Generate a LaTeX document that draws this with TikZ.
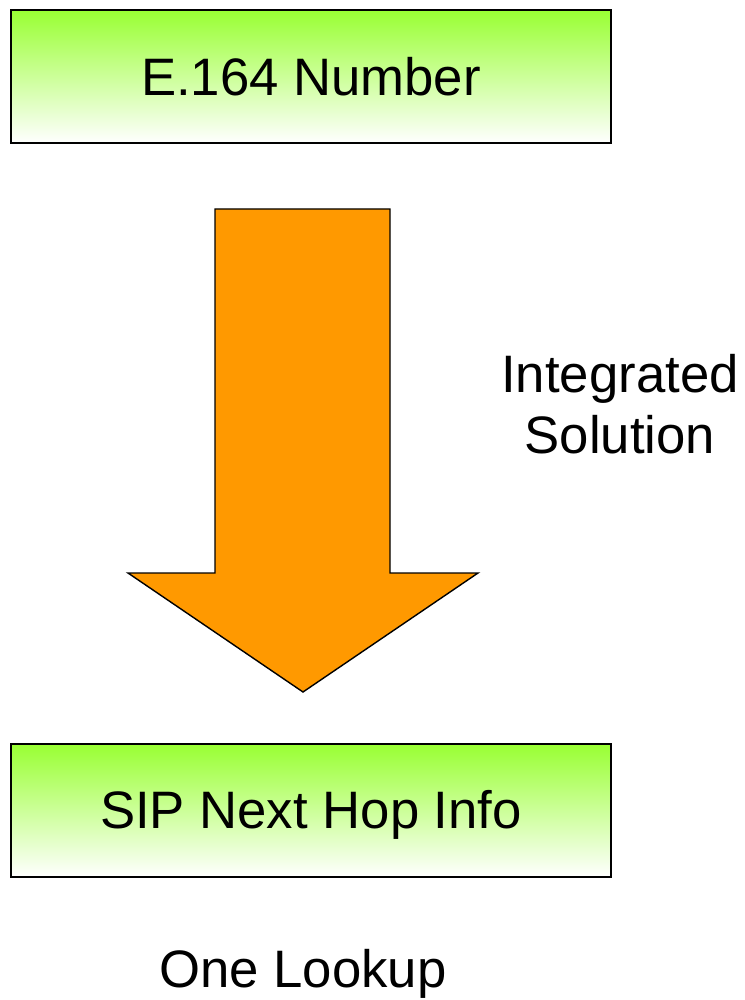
\documentclass[tikz,border=0pt]{standalone}
\usepackage{fontspec}
\setmainfont{Liberation Sans}
\usepackage{xcolor}
\usepackage{tikz}
\usetikzlibrary{positioning, calc}
\definecolor{boxgreen}{HTML}{99FF33}
\definecolor{arroworange}{HTML}{FF9900}

\begin{document}
\begin{tikzpicture}[x=0.02cm, y=-0.02cm,
    stagebox/.style={draw=black, line width=0.8pt, top color=boxgreen, bottom color=white,
      minimum width=12cm, minimum height=2.66cm, inner sep=0pt,
      font=\fontsize{30}{35}\selectfont},
    plainlabel/.style={align=center, inner sep=0pt, font=\fontsize{30}{35}\selectfont}]
    \useasboundingbox (0,0) rectangle (744,1000);

    % Boxes
    \node[stagebox] (number) at (311,76.5) {E.164 Number};
    \node[stagebox] (nexthop) at (311,810.5) {\raisebox{-2.5pt}[\height][\depth]{SIP Next Hop Info}};

    % Big arrow
    \draw[black, line width=0.8pt, fill=arroworange]
      (215,209) -- (390,209) -- (390,573) -- (478,573) -- (303,692) -- (128,573) -- (215,573) -- cycle;

    % Labels
    \node[plainlabel] (integrated) at (620,404) {Integrated\\Solution};
    \node[plainlabel, anchor=base] (lookup) at (303,987) {One Lookup};
  \end{tikzpicture}
\end{document}
